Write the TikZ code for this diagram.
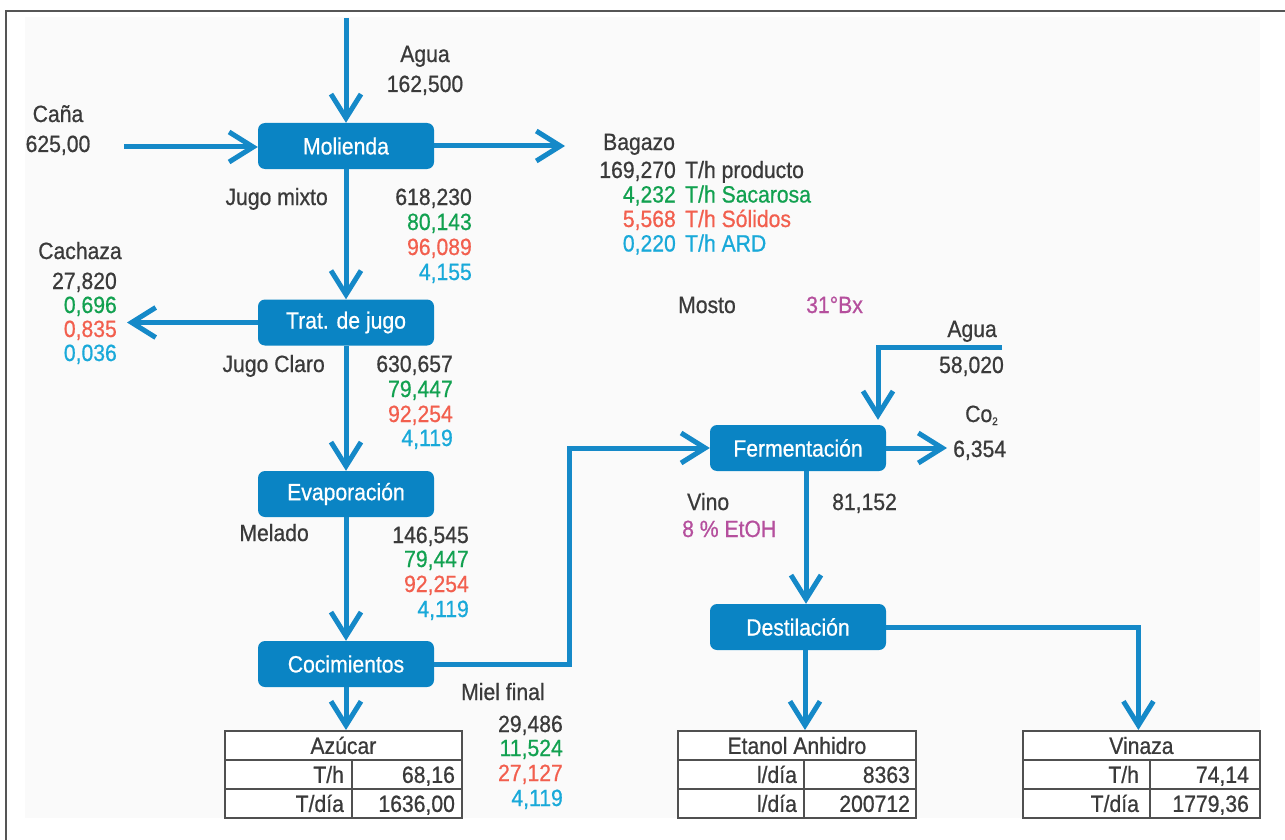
\documentclass[tikz,border=0pt]{standalone}
\usepackage{fontspec}
\setmainfont{Liberation Sans}[FakeStretch=0.9,FakeBold=0.7]
\usetikzlibrary{arrows.meta,calc}
\definecolor{boxc}{HTML}{0A84C4}
\definecolor{arrc}{HTML}{1589C8}
\definecolor{txt}{HTML}{3A3A3A}
\definecolor{grn}{HTML}{12A150}
\definecolor{rd}{HTML}{F25F4E}
\definecolor{cy}{HTML}{19A9D9}
\definecolor{mg}{HTML}{B54F9D}
\definecolor{bgc}{HTML}{FAFAFA}
\definecolor{framec}{HTML}{555555}
\definecolor{tabc}{HTML}{505050}
\newcommand{\fs}{\fontsize{23.5}{24.5}\selectfont}
\begin{document}
\begin{tikzpicture}[x=1pt,y=-1pt,
  proc/.style={rectangle, rounded corners=7pt, fill=boxc, text=white, font=\fs,
    minimum width=176pt, minimum height=46pt, inner sep=0},
  flow/.style={draw=arrc, line width=5pt, line join=miter,
    -{Straight Barb[sharp,length=24pt,width=30pt]}},
  lbl/.style={inner sep=0, font=\fs, text=txt},
  cell/.style={draw=tabc, line width=1.8pt, fill=white, font=\fs, text=txt,
    minimum height=29pt, inner ysep=0, text height=18pt, text depth=1pt, anchor=north west},
  rcell/.style={cell, align=right}
]
\useasboundingbox (0,0) rectangle (1285,840);
\fill[bgc] (25,17) rectangle (1260,818);
\draw[framec, line width=1.5pt] (5,11) -- (1285,11);
\draw[framec, line width=1.5pt] (6,11) -- (6,840);

% process boxes
\node[proc] (mol) at (346,146) {Molienda};
\node[proc] (trat) at (346,322.5) {Trat. de jugo};
\node[proc] (evap) at (346,494) {Evaporación};
\node[proc] (coc) at (346,664) {Cocimientos};
\node[proc] (ferm) at (798,448) {Fermentación};
\node[proc] (dest) at (798,627) {Destilación};

% tables
\node[cell, minimum width=237pt, inner xsep=0] (azh) at (224,730) {Azúcar};
\node[rcell, text width=111pt, inner xsep=8pt] (az1l) at (224,759) {T/h};
\node[rcell, text width=96pt, inner xsep=7pt] (az1r) at (351,759) {68,16};
\node[rcell, text width=111pt, inner xsep=8pt] (az2l) at (224,788) {T/día};
\node[rcell, text width=96pt, inner xsep=7pt] (az2r) at (351,788) {1636,00};

\node[cell, minimum width=238pt, inner xsep=0] (eth) at (677,730) {Etanol Anhidro};
\node[rcell, text width=112pt, inner xsep=7pt] (et1l) at (677,759) {l/día};
\node[rcell, text width=100pt, inner xsep=6pt] (et1r) at (803,759) {8363};
\node[rcell, text width=112pt, inner xsep=7pt] (et2l) at (677,788) {l/día};
\node[rcell, text width=100pt, inner xsep=6pt] (et2r) at (803,788) {200712};

\node[cell, minimum width=237pt, inner xsep=0] (vih) at (1022,730) {Vinaza};
\node[rcell, text width=105pt, inner xsep=11pt] (vi1l) at (1022,759) {T/h};
\node[rcell, text width=88pt, inner xsep=11pt] (vi1r) at (1149,759) {74,14};
\node[rcell, text width=105pt, inner xsep=11pt] (vi2l) at (1022,788) {T/día};
\node[rcell, text width=88pt, inner xsep=11pt] (vi2r) at (1149,788) {1779,36};

% free ends
\coordinate (aguatop) at (346,18);
\coordinate (canain) at (124,147);
\coordinate (bagout) at (565,147);
\coordinate (cachout) at (127,323);
\coordinate (bend) at (569,448);
\coordinate (agua2in) at (1002,347);
\coordinate (co2out) at (947,448);

% connectors
\draw[flow] (aguatop) -- (mol.north);
\draw[flow] (canain) -- (canain -| mol.west);
\draw[flow] (mol.east) -- (mol.east -| bagout);
\draw[flow] (mol.south) -- (trat.north);
\draw[flow] (trat.west) -- (trat.west -| cachout);
\draw[flow] (trat.south) -- (evap.north);
\draw[flow] (evap.south) -- (coc.north);
\draw[flow] (coc.south) -- (coc.south |- azh.north);
\draw[flow] (coc.east) -| (bend) -- (ferm.west);
\draw[flow, shorten >=5pt] (agua2in) -| ([xshift=80pt]ferm.north);
\draw[flow] (ferm.east) -- (co2out);
\draw[flow] ([xshift=8pt]ferm.south) -- ([xshift=8pt]dest.north);
\draw[flow] ([xshift=7pt]dest.south) -- ([xshift=7pt]dest.south |- eth.north);
\draw[flow] (dest.east) -| ([xshift=-3pt]vih.north);

% labels
\node[lbl, anchor=base] (agua1) at (425,62) {Agua};
\node[lbl, anchor=base] (agua1v) at (425,92) {162,500};
\node[lbl, anchor=base] (cana) at (58,122) {Caña};
\node[lbl, anchor=base] (canav) at (58,152) {625,00};

\node[lbl, anchor=base west] (bag) at (603,150) {Bagazo};
\node[lbl, anchor=base east] (bag1) at (676,178) {169,270};
\node[lbl, anchor=base east, text=grn] (bag2) at (676,202.5) {4,232};
\node[lbl, anchor=base east, text=rd] (bag3) at (676,227) {5,568};
\node[lbl, anchor=base east, text=cy] (bag4) at (676,251.5) {0,220};
\node[lbl, anchor=base west] (bagt1) at (685,178) {T/h producto};
\node[lbl, anchor=base west, text=grn] (bagt2) at (685,202.5) {T/h Sacarosa};
\node[lbl, anchor=base west, text=rd] (bagt3) at (685,227) {T/h Sólidos};
\node[lbl, anchor=base west, text=cy] (bagt4) at (685,251.5) {T/h ARD};

\node[lbl, anchor=base east] (jm) at (328,205) {Jugo mixto};
\node[lbl, anchor=base east] (jm1) at (472,205) {618,230};
\node[lbl, anchor=base east, text=grn] (jm2) at (472,230) {80,143};
\node[lbl, anchor=base east, text=rd] (jm3) at (472,255) {96,089};
\node[lbl, anchor=base east, text=cy] (jm4) at (472,280) {4,155};

\node[lbl, anchor=base] (cach) at (80,259) {Cachaza};
\node[lbl, anchor=base east] (cach1) at (117,289) {27,820};
\node[lbl, anchor=base east, text=grn] (cach2) at (117,313) {0,696};
\node[lbl, anchor=base east, text=rd] (cach3) at (117,337) {0,835};
\node[lbl, anchor=base east, text=cy] (cach4) at (117,361) {0,036};

\node[lbl, anchor=base east] (jc) at (325,372) {Jugo Claro};
\node[lbl, anchor=base east] (jc1) at (453,372) {630,657};
\node[lbl, anchor=base east, text=grn] (jc2) at (453,397) {79,447};
\node[lbl, anchor=base east, text=rd] (jc3) at (453,422) {92,254};
\node[lbl, anchor=base east, text=cy] (jc4) at (453,446) {4,119};

\node[lbl, anchor=base east] (mel) at (309,541) {Melado};
\node[lbl, anchor=base east] (mel1) at (469,543) {146,545};
\node[lbl, anchor=base east, text=grn] (mel2) at (469,567) {79,447};
\node[lbl, anchor=base east, text=rd] (mel3) at (469,592) {92,254};
\node[lbl, anchor=base east, text=cy] (mel4) at (469,617) {4,119};

\node[lbl, anchor=base west] (miel) at (461,700) {Miel final};
\node[lbl, anchor=base east] (miel1) at (563,732) {29,486};
\node[lbl, anchor=base east, text=grn] (miel2) at (563,756) {11,524};
\node[lbl, anchor=base east, text=rd] (miel3) at (563,781) {27,127};
\node[lbl, anchor=base east, text=cy] (miel4) at (563,806) {4,119};

\node[lbl, anchor=base west] (mosto) at (678,313) {Mosto};
\node[lbl, anchor=base west, text=mg] (brix) at (806,313) {31°Bx};
\node[lbl, anchor=base east] (agua2) at (997,337) {Agua};
\node[lbl, anchor=base east] (agua2v) at (1004,373) {58,020};
\node[lbl, anchor=base west] (co2) at (965,422) {Co\raisebox{-3pt}{\fontsize{11}{11}\selectfont 2}};
\node[lbl, anchor=base west] (co2v) at (953,457) {6,354};
\node[lbl, anchor=base west] (vino) at (687,510) {Vino};
\node[lbl, anchor=base west, text=mg] (etoh) at (682,537) {8 \% EtOH};
\node[lbl, anchor=base west] (vinov) at (832,510) {81,152};
\end{tikzpicture}
\end{document}
